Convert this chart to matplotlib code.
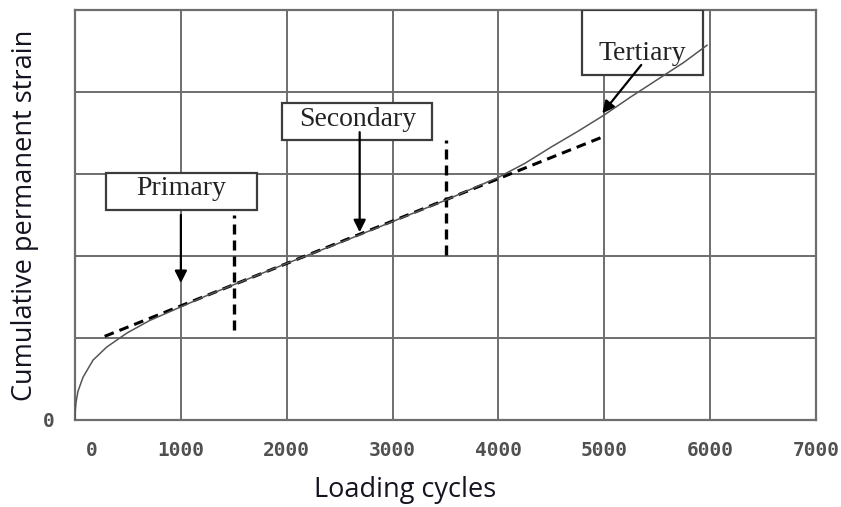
import matplotlib
matplotlib.use("Agg")
import matplotlib.pyplot as plt
from matplotlib.patches import Rectangle
import matplotlib.transforms as mtransforms

# permanent strain curve (arbitrary strain units vs. load cycles)
cycles = [0, 3, 10, 28, 75, 170, 300, 490, 700, 1000, 1250, 1500, 2000, 2500,
          3000, 3500, 4000, 4250, 4500, 4750, 5000, 5250, 5500, 5750, 5970]
strain = [0, 0.12, 0.22, 0.35, 0.52, 0.73, 0.89, 1.06, 1.21, 1.38, 1.52, 1.65,
          1.91, 2.16, 2.42, 2.68, 2.96, 3.13, 3.33, 3.52, 3.72, 3.94, 4.15,
          4.36, 4.57]

# secondary-stage trend line
trend_x = [280, 5000]
trend_y = [1.02, 3.46]

# stage boundaries (vertical dashed marks)
boundary_x = [1500, 3500]
boundary_lo = [1.1, 2.01]
boundary_hi = [2.5, 3.41]

# stage labels: text, box (x0, x1, y0, y1), text position, arrow tail, arrow tip
stages = ["Primary", "Secondary", "Tertiary"]
box_x0 = [292, 1953, 4792]
box_x1 = [1717, 3377, 5934]
box_y0 = [2.56, 3.41, 4.21]
box_y1 = [3.01, 3.87, 5.0]
text_x = [1000, 2670, 5360]
text_y = [2.82, 3.66, 4.47]
tail_x = [1000, 2689, 5349]
tail_y = [2.5, 3.51, 4.33]
tip_x = [1000, 2689, 4981]
tip_y = [1.67, 2.29, 3.74]

xticks = [0, 1000, 2000, 3000, 4000, 5000, 6000, 7000]
yticks = [0, 1, 2, 3, 4, 5]

fig = plt.figure(figsize=(8.41, 5.07), dpi=100)
ax = fig.add_axes([0.0892, 0.1716, 0.8811, 0.8087])

grid_c = "#6e6e6e"
ax.set_xlim(0, 7000)
ax.set_ylim(0, 5)
ax.set_xticks(xticks)
ax.set_yticks(yticks)
ax.set_xticklabels([str(t) for t in xticks])
ax.set_yticklabels(["0"] + [""] * (len(yticks) - 1))
ax.grid(True, color=grid_c, lw=1.4, zorder=0)
for s in ax.spines.values():
    s.set_color(grid_c)
    s.set_linewidth(1.6)
ax.tick_params(length=0, pad=15, colors="#505050")
for lab in ax.get_xticklabels() + ax.get_yticklabels():
    lab.set_family("DejaVu Sans Mono")
    lab.set_fontweight("bold")
    lab.set_fontsize(14)

# nudge the "0" under the origin to the right
zero = ax.get_xticklabels()[0]
zero.set_transform(zero.get_transform() +
                   mtransforms.ScaledTranslation(0.17, 0, fig.dpi_scale_trans))

ax.plot(cycles, strain, color="#555555", lw=1.1, zorder=7)
ax.plot(trend_x, trend_y, color="black", lw=2.2, dashes=(3.2, 2.0), zorder=4)
for bx, lo, hi in zip(boundary_x, boundary_lo, boundary_hi):
    ax.plot([bx, bx], [lo, hi], color="black", lw=2.4, dashes=(3.0, 1.8), zorder=4)

for i, name in enumerate(stages):
    ax.add_patch(Rectangle((box_x0[i], box_y0[i]), box_x1[i] - box_x0[i],
                           box_y1[i] - box_y0[i], facecolor="white",
                           edgecolor="#3c3c3c", lw=1.6, zorder=5))
    ax.text(text_x[i], text_y[i], name, ha="center", va="center",
            family="Liberation Serif", fontsize=20, color="#222222", zorder=6)
    ax.annotate("", xy=(tip_x[i], tip_y[i]), xytext=(tail_x[i], tail_y[i]),
                arrowprops=dict(arrowstyle="-|>", color="black", lw=1.6,
                                mutation_scale=18, shrinkA=0, shrinkB=0),
                zorder=6)

fig.text(405 / 841, 1 - 490 / 507, "Loading cycles", ha="center", va="center",
         family="Open Sans", fontsize=19.5, color="#141420")
fig.text(25 / 841, 1 - 215 / 507, "Cumulative permanent strain", ha="center",
         va="center", rotation=90, family="Open Sans", fontsize=19.5,
         color="#141420")

fig.savefig("out.png", dpi=100)
